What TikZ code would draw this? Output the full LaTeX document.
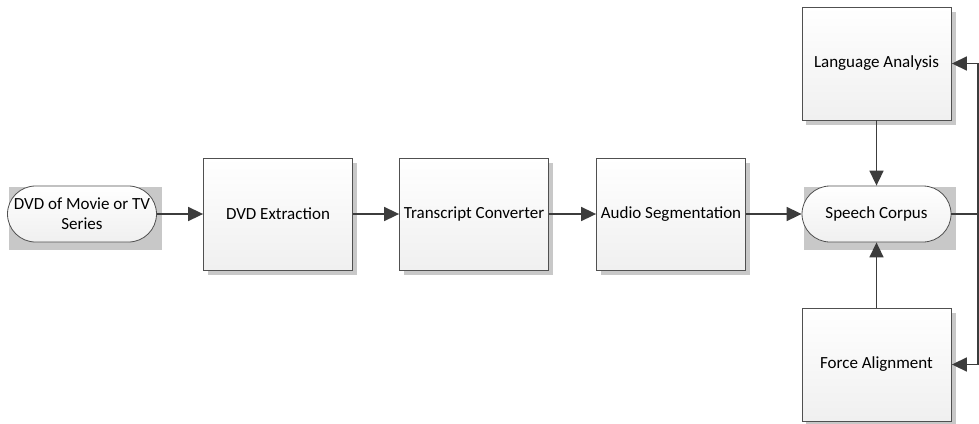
\documentclass[tikz,border=0pt]{standalone}
\usepackage{fontspec}
\setmainfont{Carlito}
\usetikzlibrary{arrows.meta,backgrounds,calc}
\definecolor{edge}{HTML}{3C3C3C}
\definecolor{frame}{HTML}{505050}
\definecolor{shade}{HTML}{C8C8C8}
\tikzset{
  x=1pt, y=-1pt,
  every node/.style={font=\fontsize{17}{20}\selectfont, text=black},
  procbox/.style={rectangle, draw=frame, line width=0.8pt,
    top color=white, bottom color=gray!12,
    minimum width=149pt, minimum height=112pt, inner sep=1pt, align=center},
  termbox/.style={rectangle, rounded corners=28pt, draw=frame, line width=0.8pt,
    top color=white, bottom color=gray!12,
    minimum width=149pt, minimum height=56pt, inner sep=1pt, align=center},
  flow/.style={draw=edge, line width=1.6pt, -{Triangle[length=15pt,width=14pt]}},
  boxshadow/.style={fill=shade},
}
\begin{document}
\begin{tikzpicture}
\useasboundingbox (0,0) rectangle (979,423);

% blocks
\node[termbox] (dvd) at (82,214) {DVD of Movie or TV\\Series};
\node[procbox] (extract) at (278,214) {DVD Extraction};
\node[procbox] (trans) at (474,214) {Transcript Converter};
\node[procbox] (audio) at (671,214) {Audio Segmentation};
\node[termbox] (corpus) at (876.5,214) {Speech Corpus};
\node[procbox, minimum height=113pt] (lang) at (876.5,63.5) {Language Analysis};
\node[procbox, minimum height=113pt] (force) at (876.5,364.5) {Force Alignment};

% drop shadows
\begin{scope}[on background layer]
  \foreach \n in {extract,trans,audio,lang,force}
    \fill[boxshadow] ($(\n.north west)+(4.5,5)$) rectangle ($(\n.south east)+(4.5,5)$);
  \foreach \n in {dvd,corpus}
    \fill[boxshadow] ($(\n.north west)+(2,1.5)$) rectangle ($(\n.south east)+(5,7.5)$);
\end{scope}

% connectors
\coordinate (loop) at (978,214);
\draw[flow] (dvd) -- (extract);
\draw[flow] (extract) -- (trans);
\draw[flow] (trans) -- (audio);
\draw[flow] (audio) -- (corpus);
\draw[flow] (lang) -- (corpus);
\draw[flow] (force) -- (corpus);
\draw[flow] (corpus.east) -- (loop) |- ($(lang.east)+(0.5,0)$);
\draw[flow] (loop) |- ($(force.east)+(0.5,0)$);
\end{tikzpicture}
\end{document}
